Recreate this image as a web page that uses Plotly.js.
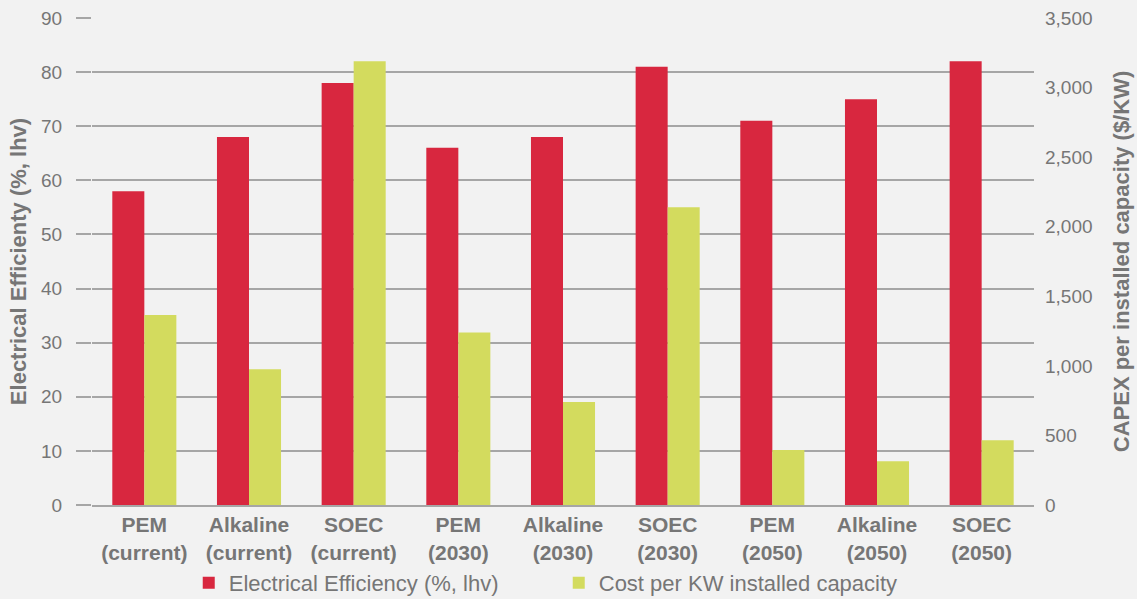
<!DOCTYPE html>
<html>
<head>
<meta charset="utf-8">
<script src="https://cdn.plot.ly/plotly-3.0.1.min.js"></script>
<style>
  html, body { margin: 0; padding: 0; background: #F2F2F2; }
  #chart { width: 1137px; height: 599px; }
</style>
</head>
<body>
<div id="chart"></div>
<script>
const categories = [
  "PEM<br>(current)", "Alkaline<br>(current)", "SOEC<br>(current)",
  "PEM<br>(2030)", "Alkaline<br>(2030)", "SOEC<br>(2030)",
  "PEM<br>(2050)", "Alkaline<br>(2050)", "SOEC<br>(2050)"
];
const efficiency = [58, 68, 78, 66, 68, 81, 71, 75, 82];
const costPerKW = [1365, 975, 3190, 1240, 740, 2140, 395, 315, 465];
const efficiencyName = "Electrical Efficiency (%, lhv)";
const costName = "Cost per KW installed capacity";
const leftTitle = "Electrical Efficienty (%, lhv)";
const rightTitle = "CAPEX per installed capacity ($/KW)";

const RED = "#D8273F";
const GREEN = "#D3DB5E";
const TEXT = "#767676";
const GRID = "#A6A6A6";
const FONT = "Liberation Sans, Arial, sans-serif";

const traces = [
  {
    type: "bar", name: efficiencyName, x: categories, y: efficiency,
    marker: { color: RED }, width: 0.306, offset: -0.306,
    yaxis: "y", hoverinfo: "x+y"
  },
  {
    type: "bar", name: costName, x: categories, y: costPerKW,
    marker: { color: GREEN }, width: 0.306, offset: 0,
    yaxis: "y2", hoverinfo: "x+y"
  }
];

const layout = {
  width: 1137, height: 599,
  paper_bgcolor: "#F2F2F2", plot_bgcolor: "#F2F2F2",
  margin: { l: 92, r: 103, t: 18, b: 94, pad: 0, autoexpand: false },
  font: { family: FONT, color: TEXT, size: 20 },
  showlegend: true,
  legend: {
    orientation: "h", xref: "container", x: 0.166, xanchor: "left",
    yref: "container", y: 0.0267, yanchor: "middle",
    font: { size: 22, color: TEXT, family: FONT },
    bgcolor: "rgba(0,0,0,0)", entrywidth: 325, entrywidthmode: "pixels"
  },
  xaxis: {
    type: "category", range: [-0.5, 8.5],
    showline: true, linecolor: GRID, linewidth: 2,
    ticks: "", showgrid: false, zeroline: false,
    tickfont: { size: 21, color: TEXT, family: FONT, weight: "bold" },
    fixedrange: true
  },
  yaxis: {
    range: [0, 90], dtick: 10, tick0: 0,
    showgrid: true, gridcolor: GRID, gridwidth: 2,
    ticks: "outside", ticklen: 15, tickcolor: GRID, tickwidth: 2,
    ticklabelstandoff: 10,
    zeroline: false, showline: false,
    tickfont: { size: 19, color: TEXT, family: FONT },
    title: { text: leftTitle, font: { size: 22, color: TEXT, family: FONT, weight: "bold" }, standoff: 8 },
    fixedrange: true
  },
  yaxis2: {
    overlaying: "y", side: "right",
    range: [0, 3500], dtick: 500, tick0: 0, tickformat: ",d",
    showgrid: false, zeroline: false, showline: false, ticks: "",
    ticklabelstandoff: 10,
    tickfont: { size: 19, color: TEXT, family: FONT },
    title: { text: rightTitle, font: { size: 22, color: TEXT, family: FONT, weight: "bold" }, standoff: 22 },
    fixedrange: true
  },
  bargap: 0.388
};

Plotly.newPlot("chart", traces, layout, { displayModeBar: false, staticPlot: true });
</script>
</body>
</html>
